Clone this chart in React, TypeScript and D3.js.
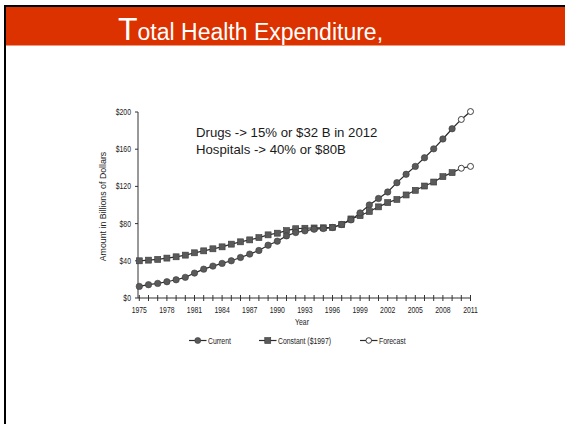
import React from "react";
import * as d3 from "d3";

// Years on the category axis
const years: number[] = d3.range(1975, 2012);

// Current dollars, billions (1975–2009 actual)
const currentValues: number[] = [
  12.5, 14.3, 15.7, 17.5, 19.6, 22.2, 26.8, 31.0, 34.3, 37.2,
  40.0, 43.6, 47.2, 51.1, 56.8, 61.1, 66.8, 70.4, 72.2, 74.0,
  74.7, 75.8, 79.0, 84.0, 91.5, 100.0, 107.0, 114.0, 124.0, 133.0,
  141.5, 150.8, 160.4, 171.0, 182.0,
];

// Constant 1997 dollars, billions (1975–2009 actual)
const constantValues: number[] = [
  40.0, 40.7, 41.5, 42.9, 44.3, 46.1, 48.6, 50.7, 52.9, 55.0,
  57.9, 60.4, 62.5, 65.0, 67.9, 69.7, 72.5, 74.5, 75.0, 75.3,
  75.5, 76.0, 79.0, 85.0, 88.5, 93.0, 98.0, 102.6, 106.0, 110.8,
  115.8, 120.4, 124.7, 130.5, 134.8,
];

// Forecast years and values for both series
const forecastYears: number[] = [2010, 2011];
const forecastCurrent: number[] = [192.0, 200.5];
const forecastConstant: number[] = [139.5, 141.5];

const yTicks: number[] = [0, 40, 80, 120, 160, 200];
const xLabelYears: number[] = d3.range(1975, 2012, 3);

const titleFirst = "T";
const titleRest = "otal Health Expenditure,";
const noteLines: string[] = [
  "Drugs -> 15% or $32 B in 2012",
  "Hospitals -> 40% or $80B",
];
const legendItems = ["Current", "Constant ($1997)", "Forecast"];

const W = 565;
const H = 424;
const LINE = "#2b2b2b";
const MARK = "#5a5a5a";
const SANS = "'Liberation Sans', Arial, Helvetica, sans-serif";

// Small condensed label: horizontally compressed sans text
function Small({
  x,
  y,
  anchor = "start",
  children,
}: {
  x: number;
  y: number;
  anchor?: "start" | "middle" | "end";
  children: React.ReactNode;
}) {
  return (
    <g transform={`translate(${x},${y}) scale(0.8,1)`}>
      <text x={0} y={0} dy="0.35em" textAnchor={anchor} fontSize={8.6} fill="#222" fontFamily={SANS}>
        {children}
      </text>
    </g>
  );
}

export default function App() {
  const x = d3.scaleLinear().domain([1975, 2011]).range([139.3, 470.5]);
  const y = d3.scaleLinear().domain([0, 200]).range([298, 112]);

  const line = d3
    .line<[number, number]>()
    .x((d) => x(d[0]))
    .y((d) => y(d[1]));

  const actualYears = years.slice(0, currentValues.length);
  const cur: [number, number][] = actualYears.map((yr, i) => [yr, currentValues[i]]);
  const con: [number, number][] = actualYears.map((yr, i) => [yr, constantValues[i]]);
  const lastYear = actualYears[actualYears.length - 1];
  const fCur: [number, number][] = [
    [lastYear, currentValues[currentValues.length - 1]],
    ...forecastYears.map((yr, i) => [yr, forecastCurrent[i]] as [number, number]),
  ];
  const fCon: [number, number][] = [
    [lastYear, constantValues[constantValues.length - 1]],
    ...forecastYears.map((yr, i) => [yr, forecastConstant[i]] as [number, number]),
  ];

  const axisY = y(0);
  const axisX = x(1975) - 1.3;

  const legendY = 340.5;
  const legendPos = [
    { x0: 189, x1: 206.5, tx: 208 },
    { x0: 259, x1: 276.5, tx: 278 },
    { x0: 360, x1: 377.5, tx: 379 },
  ];

  return (
    <svg
      width={W}
      height={H}
      viewBox={`0 0 ${W} ${H}`}
      style={{ position: "absolute", left: 0, top: 0, background: "#fff" }}
    >
      <rect x={0} y={0} width={W} height={H} fill="#fff" />
      {/* Title band */}
      <rect x={5} y={7} width={W - 5} height={38.5} fill="#dc3200" />
      <line x1={4} y1={6} x2={W} y2={6} stroke="#000" strokeWidth={2} />
      <line x1={5} y1={5} x2={5} y2={H} stroke="#000" strokeWidth={2} />
      <text x={118} y={40} fill="#fff" fontFamily={SANS}>
        <tspan fontSize={32}>{titleFirst}</tspan>
        <tspan fontSize={23}>{titleRest}</tspan>
      </text>

      {/* Annotation */}
      {noteLines.map((t, i) => (
        <text key={t} x={196} y={137.3 + i * 17} fontSize={13.2} fill="#1a1a1a" fontFamily={SANS}>
          {t}
        </text>
      ))}

      {/* Y axis */}
      <line x1={axisX} y1={y(200)} x2={axisX} y2={axisY} stroke="#333" strokeWidth={1} />
      {yTicks.map((v) => (
        <g key={v}>
          <line x1={axisX - 3} x2={axisX} y1={y(v)} y2={y(v)} stroke="#333" strokeWidth={1} />
          <Small x={axisX - 7} y={y(v)} anchor="end">{`$${v}`}</Small>
        </g>
      ))}
      <text
        transform="translate(103,206.5) rotate(-90)"
        textAnchor="middle"
        dy="0.35em"
        fontSize={8.8}
        fill="#222"
        fontFamily={SANS}
      >
        Amount in Billions of Dollars
      </text>

      {/* X axis */}
      <line x1={axisX} y1={axisY} x2={x(2011) + 0.5} y2={axisY} stroke="#333" strokeWidth={1} />
      {years.map((yr) => (
        <line
          key={yr}
          x1={x(yr)}
          x2={x(yr)}
          y1={axisY - 3}
          y2={axisY + 3}
          stroke="#333"
          strokeWidth={1}
        />
      ))}
      {xLabelYears.map((yr) => (
        <Small key={yr} x={x(yr)} y={axisY + 12} anchor="middle">
          {yr}
        </Small>
      ))}
      <Small x={302} y={322} anchor="middle">
        Year
      </Small>

      {/* Series lines */}
      <path d={line(fCur) ?? ""} fill="none" stroke={LINE} strokeWidth={1.2} />
      <path d={line(fCon) ?? ""} fill="none" stroke={LINE} strokeWidth={1.2} />
      <path d={line(con) ?? ""} fill="none" stroke={LINE} strokeWidth={1.2} />
      <path d={line(cur) ?? ""} fill="none" stroke={LINE} strokeWidth={1.2} />

      {con.map((d) => (
        <rect
          key={`s${d[0]}`}
          x={x(d[0]) - 3}
          y={y(d[1]) - 3}
          width={6}
          height={6}
          fill={MARK}
          stroke="#3a3a3a"
          strokeWidth={0.6}
        />
      ))}
      {cur.map((d) => (
        <circle
          key={`c${d[0]}`}
          cx={x(d[0])}
          cy={y(d[1])}
          r={3.2}
          fill={MARK}
          stroke="#3a3a3a"
          strokeWidth={0.6}
        />
      ))}
      {[...fCur.slice(1), ...fCon.slice(1)].map((d, i) => (
        <circle
          key={`f${i}`}
          cx={x(d[0])}
          cy={y(d[1])}
          r={3}
          fill="#fff"
          stroke={LINE}
          strokeWidth={0.9}
        />
      ))}

      {/* Legend */}
      {legendItems.map((label, i) => {
        const p = legendPos[i];
        const cx = (p.x0 + p.x1) / 2;
        return (
          <g key={label}>
            <line x1={p.x0} x2={p.x1} y1={legendY} y2={legendY} stroke={LINE} strokeWidth={1.2} />
            {i === 0 && <circle cx={cx} cy={legendY} r={3} fill={MARK} stroke="#3a3a3a" strokeWidth={0.6} />}
            {i === 1 && (
              <rect x={cx - 3} y={legendY - 3} width={6} height={6} fill={MARK} stroke="#3a3a3a" strokeWidth={0.6} />
            )}
            {i === 2 && <circle cx={cx} cy={legendY} r={2.8} fill="#fff" stroke={LINE} strokeWidth={0.9} />}
            <Small x={p.tx} y={legendY}>{label}</Small>
          </g>
        );
      })}
    </svg>
  );
}
